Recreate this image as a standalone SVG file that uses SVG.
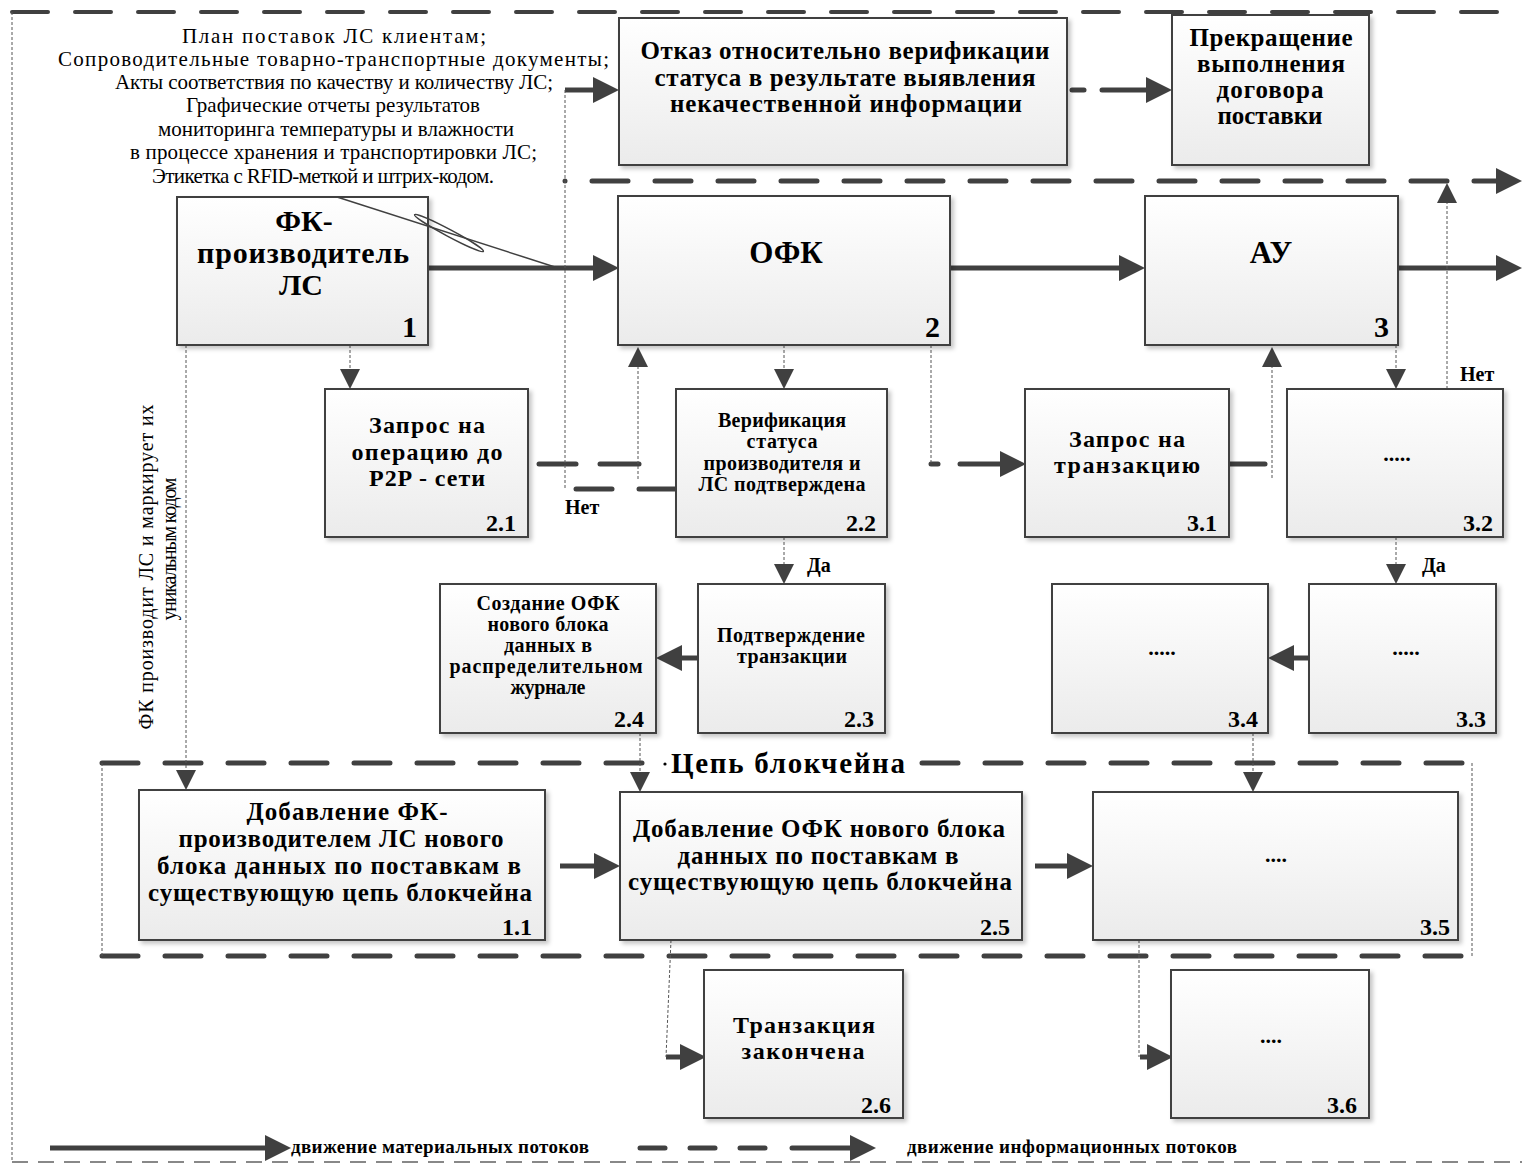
<svg xmlns="http://www.w3.org/2000/svg" width="1522" height="1164" viewBox="0 0 1522 1164">
<defs>
<linearGradient id="g" x1="0" y1="0" x2="0" y2="1">
<stop offset="0" stop-color="#ffffff"/><stop offset="1" stop-color="#ebebeb"/>
</linearGradient>
<filter id="sh" x="-5%" y="-5%" width="115%" height="115%">
<feDropShadow dx="3" dy="3" stdDeviation="2" flood-color="#000" flood-opacity="0.22"/>
</filter>
<marker id="ah" markerUnits="userSpaceOnUse" markerWidth="26" markerHeight="26" viewBox="0 0 26 26" refX="0" refY="13" orient="auto">
<path d="M0,0 L26,13 L0,26 z" fill="#404040"/>
</marker>
<marker id="as" markerUnits="userSpaceOnUse" markerWidth="20" markerHeight="20" viewBox="0 0 20 20" refX="0" refY="10" orient="auto">
<path d="M0,0 L20,10 L0,20 z" fill="#404040"/>
</marker>
<style>
.box{fill:url(#g);stroke:#404040;stroke-width:2;filter:url(#sh)}
.t{font-family:"Liberation Serif","Times New Roman",serif;fill:#000}
.b{font-weight:bold}
.c{text-anchor:middle}
.n{text-anchor:end;font-weight:bold;font-size:24px}
.big{text-anchor:end;font-weight:bold;font-size:30px}
.mat{fill:none;stroke:#404040;stroke-width:5}
.info{fill:none;stroke:#404040;stroke-width:5;stroke-linecap:round;stroke-dasharray:36 27}
.seg{fill:none;stroke:#404040;stroke-width:5;stroke-linecap:round}
.dot{fill:none;stroke:#555;stroke-width:1;stroke-dasharray:3 2}
</style>
</defs>

<g id="frame">
<path class="info" d="M12,12 H1522" style="stroke-width:4"/>
<path class="dot" d="M12,12 V1162"/>
<path d="M12,1162 H1522" fill="none" stroke="#888" stroke-width="2" stroke-dasharray="16 10"/>
</g>

<g id="blockchain-container">
<path class="info" d="M102,763 H645"/>
<path class="info" d="M922,763 H1466"/>
<path class="info" d="M102,956 H1466"/>
<path class="dot" d="M102,763 V956"/>
<path class="dot" d="M1472,763 V956"/>
<circle cx="665" cy="764" r="1.6" fill="#000"/>
<text class="t b" x="671" y="773" font-size="29" textLength="234">Цепь блокчейна</text>
</g>

<g id="docs-text" class="t" font-size="21">
<text x="182" y="43" textLength="304">План поставок ЛС клиентам;</text>
<text x="58" y="66" textLength="551">Сопроводительные товарно-транспортные документы;</text>
<text x="115" y="89" textLength="438">Акты соответствия по качеству и количеству ЛС;</text>
<text x="186" y="112" textLength="294">Графические отчеты результатов</text>
<text x="158" y="136" textLength="356">мониторинга температуры и влажности</text>
<text x="130" y="159" textLength="407">в процессе хранения и транспортировки ЛС;</text>
<text x="152" y="183" textLength="342">Этикетка с RFID-меткой и штрих-кодом.</text>
</g>

<g id="side-text" class="t c" font-size="20">
<text transform="translate(153,567) rotate(-90)" textLength="325">ФК производит ЛС и маркирует их</text>
<text transform="translate(176,549) rotate(-90)" textLength="143">уникальным кодом</text>
</g>

<g id="connectors">
<path class="mat" d="M428,268 H593" marker-end="url(#ah)"/>
<path class="mat" d="M950,268 H1119" marker-end="url(#ah)"/>
<path class="mat" d="M1398,268 H1496" marker-end="url(#ah)"/>
<path class="mat" d="M565,90 H593" marker-end="url(#ah)"/>
<path class="mat" d="M698,658 H682" marker-end="url(#ah)"/>
<path class="mat" d="M1309,658 H1294" marker-end="url(#ah)"/>
<path class="mat" d="M560,866 H594" marker-end="url(#ah)"/>
<path class="mat" d="M1035,866 H1067" marker-end="url(#ah)"/>
<path class="mat" d="M666,1057 H680" marker-end="url(#ah)"/>
<path class="mat" d="M1140,1057 H1147" marker-end="url(#ah)"/>
<path class="seg" d="M1072,90 H1084"/>
<path class="seg" d="M1102,90 H1146" marker-end="url(#ah)"/>
<circle cx="565" cy="181" r="2.5" fill="#404040"/>
<path class="info" d="M592,181 H1496" marker-end="url(#ah)"/>
<path class="seg" d="M539,464 H576"/>
<path class="seg" d="M600,464 H639"/>
<path class="seg" d="M576,489 H612"/>
<path class="seg" d="M639,489 H676"/>
<path class="seg" d="M931,464 H938"/>
<path class="seg" d="M960,464 H1000" marker-end="url(#ah)"/>
<path class="seg" d="M1230,464 H1265"/>
<path class="dot" d="M565,90 V489"/>
<path class="dot" d="M638,479 V367" marker-end="url(#as)"/>
<path class="dot" d="M350,345 V369" marker-end="url(#as)"/>
<path class="dot" d="M784,345 V369" marker-end="url(#as)"/>
<path class="dot" d="M931,345 V464"/>
<path class="dot" d="M1272,478 V367" marker-end="url(#as)"/>
<path class="dot" d="M1396,345 V369" marker-end="url(#as)"/>
<path class="dot" d="M1447,389 V203" marker-end="url(#as)"/>
<path class="dot" d="M784,537 V564" marker-end="url(#as)"/>
<path class="dot" d="M1396,537 V564" marker-end="url(#as)"/>
<path class="dot" d="M186,345 V770" marker-end="url(#as)"/>
<path class="dot" d="M640,733 V772" marker-end="url(#as)"/>
<path class="dot" d="M1253,733 V772" marker-end="url(#as)"/>
<path class="dot" d="M671,940 L666,1057"/>
<path class="dot" d="M1139,940 V1057"/>
<text class="t b" x="565" y="514" font-size="20">Нет</text>
<text class="t b" x="1460" y="381" font-size="20">Нет</text>
<text class="t b" x="807" y="572" font-size="20">Да</text>
<text class="t b" x="1422" y="572" font-size="20">Да</text>
</g>

<g id="n-otkaz">
<rect class="box" x="619" y="18" width="448" height="147"/>
<text class="t b c" x="845" y="59" font-size="25" textLength="409">Отказ относительно верификации</text>
<text class="t b c" x="845" y="86" font-size="25" textLength="381">статуса в результате выявления</text>
<text class="t b c" x="846" y="112" font-size="25" textLength="352">некачественной информации</text>
</g>

<g id="n-prekr">
<rect class="box" x="1172" y="15" width="197" height="150"/>
<text class="t b c" x="1271" y="46" font-size="25" textLength="163">Прекращение</text>
<text class="t b c" x="1271" y="72" font-size="25" textLength="148">выполнения</text>
<text class="t b c" x="1270" y="98" font-size="25" textLength="107">договора</text>
<text class="t b c" x="1270" y="124" font-size="25" textLength="105">поставки</text>
</g>

<g id="n1">
<rect class="box" x="177" y="197" width="251" height="148"/>
<text class="t b c" x="304" y="231" font-size="30">ФК-</text>
<text class="t b c" x="303" y="263" font-size="30" textLength="212">производитель</text>
<text class="t b c" x="301" y="295" font-size="30">ЛС</text>
<text class="t big" x="417" y="337">1</text>
</g>

<g id="n2">
<rect class="box" x="618" y="196" width="332" height="149"/>
<text class="t b c" x="786" y="263" font-size="31">ОФК</text>
<text class="t big" x="940" y="337">2</text>
</g>

<g id="n3">
<rect class="box" x="1145" y="196" width="253" height="149"/>
<text class="t b c" x="1271" y="263" font-size="31">АУ</text>
<text class="t big" x="1389" y="337">3</text>
</g>

<g id="n2-1">
<rect class="box" x="325" y="389" width="203" height="148"/>
<text class="t b c" x="427" y="433" font-size="24" textLength="116">Запрос на</text>
<text class="t b c" x="427" y="460" font-size="24" textLength="151">операцию до</text>
<text class="t b c" x="427" y="486" font-size="24" textLength="116">P2P - сети</text>
<text class="t n" x="516" y="531">2.1</text>
</g>

<g id="n2-2">
<rect class="box" x="676" y="389" width="211" height="148"/>
<text class="t b c" x="782" y="427" font-size="20" textLength="128">Верификация</text>
<text class="t b c" x="782" y="448" font-size="20" textLength="71">статуса</text>
<text class="t b c" x="782" y="470" font-size="20" textLength="157">производителя и</text>
<text class="t b c" x="782" y="491" font-size="20" textLength="167">ЛС подтверждена</text>
<text class="t n" x="876" y="531">2.2</text>
</g>

<g id="n3-1">
<rect class="box" x="1025" y="389" width="204" height="148"/>
<text class="t b c" x="1127" y="447" font-size="24" textLength="116">Запрос на</text>
<text class="t b c" x="1127" y="473" font-size="24" textLength="146">транзакцию</text>
<text class="t n" x="1217" y="531">3.1</text>
</g>

<g id="n3-2">
<rect class="box" x="1287" y="389" width="216" height="148"/>
<text class="t b c" x="1397" y="461" font-size="22">.....</text>
<text class="t n" x="1493" y="531">3.2</text>
</g>

<g id="n2-3">
<rect class="box" x="698" y="584" width="187" height="149"/>
<text class="t b c" x="791" y="642" font-size="20" textLength="148">Подтверждение</text>
<text class="t b c" x="792" y="663" font-size="20" textLength="110">транзакции</text>
<text class="t n" x="874" y="727">2.3</text>
</g>

<g id="n2-4">
<rect class="box" x="440" y="584" width="216" height="149"/>
<text class="t b c" x="548" y="610" font-size="20" textLength="143">Создание ОФК</text>
<text class="t b c" x="548" y="631" font-size="20" textLength="121">нового блока</text>
<text class="t b c" x="548" y="652" font-size="20" textLength="88">данных в</text>
<text class="t b c" x="546" y="673" font-size="20" textLength="193">распределительном</text>
<text class="t b c" x="548" y="694" font-size="20" textLength="75">журнале</text>
<text class="t n" x="644" y="727">2.4</text>
</g>

<g id="n3-3">
<rect class="box" x="1309" y="584" width="187" height="149"/>
<text class="t b c" x="1406" y="655" font-size="22">.....</text>
<text class="t n" x="1486" y="727">3.3</text>
</g>

<g id="n3-4">
<rect class="box" x="1052" y="584" width="216" height="149"/>
<text class="t b c" x="1162" y="655" font-size="22">.....</text>
<text class="t n" x="1258" y="727">3.4</text>
</g>

<g id="n1-1">
<rect class="box" x="139" y="790" width="406" height="150"/>
<text class="t b c" x="347" y="820" font-size="25" textLength="201">Добавление ФК-</text>
<text class="t b c" x="341" y="847" font-size="25" textLength="325">производителем ЛС нового</text>
<text class="t b c" x="339" y="874" font-size="25" textLength="364">блока данных по поставкам в</text>
<text class="t b c" x="340" y="901" font-size="25" textLength="384">существующую цепь блокчейна</text>
<text class="t n" x="532" y="935">1.1</text>
</g>

<g id="n2-5">
<rect class="box" x="620" y="792" width="402" height="148"/>
<text class="t b c" x="819" y="837" font-size="25" textLength="372">Добавление ОФК нового блока</text>
<text class="t b c" x="818" y="864" font-size="25" textLength="281">данных по поставкам в</text>
<text class="t b c" x="820" y="890" font-size="25" textLength="384">существующую цепь блокчейна</text>
<text class="t n" x="1010" y="935">2.5</text>
</g>

<g id="n3-5">
<rect class="box" x="1093" y="792" width="365" height="148"/>
<text class="t b c" x="1276" y="862" font-size="22">....</text>
<text class="t n" x="1450" y="935">3.5</text>
</g>

<g id="n2-6">
<rect class="box" x="704" y="970" width="199" height="148"/>
<text class="t b c" x="804" y="1033" font-size="24" textLength="142">Транзакция</text>
<text class="t b c" x="803" y="1059" font-size="24" textLength="123">закончена</text>
<text class="t n" x="891" y="1113">2.6</text>
</g>

<g id="n3-6">
<rect class="box" x="1171" y="970" width="198" height="148"/>
<text class="t b c" x="1271" y="1043" font-size="22">....</text>
<text class="t n" x="1357" y="1113">3.6</text>
</g>

<g id="callout">
<path d="M337,197 L558,268" fill="none" stroke="#404040" stroke-width="1.5"/>
<ellipse cx="449" cy="233" rx="39" ry="3.5" transform="rotate(28 449 233)" fill="none" stroke="#404040" stroke-width="1.5"/>
</g>

<g id="legend">
<path class="mat" d="M50,1148 H265" marker-end="url(#ah)"/>
<text class="t b" x="291" y="1153" font-size="19" textLength="298">движение материальных потоков</text>
<path class="seg" d="M640,1148 H665"/>
<path class="seg" d="M690,1148 H715"/>
<path class="seg" d="M740,1148 H765"/>
<path class="seg" d="M792,1148 H850" marker-end="url(#ah)"/>
<text class="t b" x="907" y="1153" font-size="19" textLength="330">движение информационных потоков</text>
</g>
</svg>
